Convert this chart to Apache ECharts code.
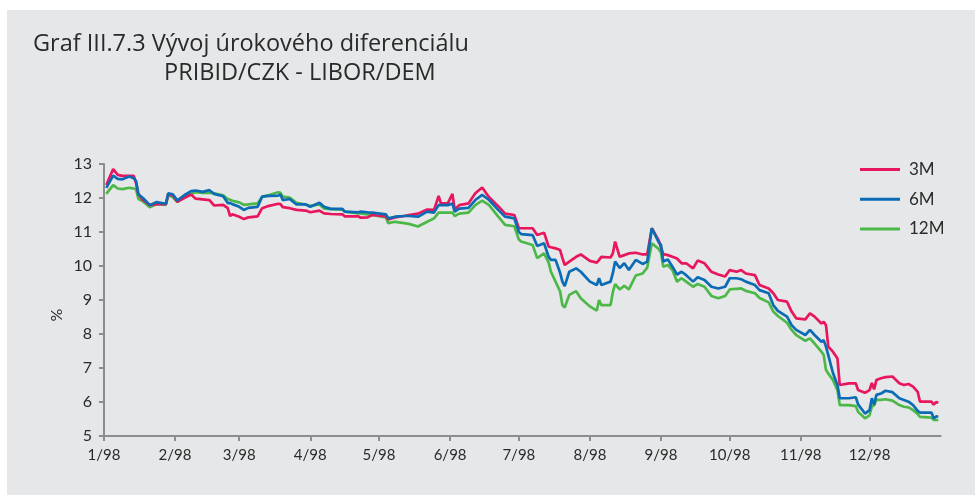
<!DOCTYPE html>
<html>
<head>
<meta charset="utf-8">
<script src="https://cdn.jsdelivr.net/npm/echarts@6/dist/echarts.min.js"></script>
<style>
html,body{margin:0;padding:0;background:#ffffff;}
#chart{width:975px;height:495px;}
</style>
</head>
<body>
<div id="chart"></div>
<script>
const titleLine1 = 'Graf III.7.3 Vývoj úrokového diferenciálu';
const titleLine2 = 'PRIBID/CZK - LIBOR/DEM';
const seriesNames = ['3M', '6M', '12M'];
const yTicks = [5, 6, 7, 8, 9, 10, 11, 12, 13];

const dates = [
'1998-01-02','1998-01-05','1998-01-07','1998-01-09','1998-01-12','1998-01-14','1998-01-15','1998-01-16','1998-01-18','1998-01-21',
'1998-01-24','1998-01-28','1998-01-29','1998-01-31','1998-02-02','1998-02-05','1998-02-08','1998-02-10','1998-02-13','1998-02-16',
'1998-02-18','1998-02-22','1998-02-24','1998-02-25','1998-02-26','1998-03-01','1998-03-03','1998-03-05','1998-03-09','1998-03-11',
'1998-03-14','1998-03-18','1998-03-19','1998-03-20','1998-03-23','1998-03-26','1998-03-30','1998-04-01','1998-04-05','1998-04-07',
'1998-04-10','1998-04-15','1998-04-16','1998-04-22','1998-04-23','1998-04-26','1998-04-28','1998-05-04','1998-05-05','1998-05-08',
'1998-05-12','1998-05-14','1998-05-18','1998-05-22','1998-05-25','1998-05-27','1998-05-28','1998-05-31','1998-06-02','1998-06-03',
'1998-06-05','1998-06-09','1998-06-12','1998-06-15','1998-06-18','1998-06-22','1998-06-25','1998-06-29','1998-07-01','1998-07-02',
'1998-07-07','1998-07-09','1998-07-12','1998-07-14','1998-07-15','1998-07-17','1998-07-19','1998-07-20','1998-07-21','1998-07-23',
'1998-07-26','1998-07-28','1998-08-01','1998-08-04','1998-08-05','1998-08-06','1998-08-10','1998-08-11','1998-08-12','1998-08-14',
'1998-08-16','1998-08-18','1998-08-21','1998-08-24','1998-08-26','1998-08-28','1998-08-31','1998-09-01','1998-09-02','1998-09-04',
'1998-09-06','1998-09-08','1998-09-10','1998-09-12','1998-09-15','1998-09-17','1998-09-20','1998-09-23','1998-09-26','1998-09-29',
'1998-10-01','1998-10-04','1998-10-06','1998-10-08','1998-10-12','1998-10-14','1998-10-18','1998-10-20','1998-10-22','1998-10-26',
'1998-10-28','1998-10-30','1998-11-03','1998-11-05','1998-11-07','1998-11-10','1998-11-11','1998-11-12','1998-11-13','1998-11-15',
'1998-11-17','1998-11-18','1998-11-22','1998-11-25','1998-11-26','1998-11-29','1998-12-01','1998-12-02','1998-12-03','1998-12-04',
'1998-12-06','1998-12-08','1998-12-11','1998-12-14','1998-12-16','1998-12-18','1998-12-20','1998-12-22','1998-12-23','1998-12-28',
'1998-12-29','1998-12-30','1998-12-31'
];

const v3M = [
12.38,12.85,12.68,12.65,12.65,12.65,12.43,12.11,11.94,11.79,
11.82,11.82,12.10,12.08,11.89,12.00,12.10,11.98,11.96,11.94,
11.78,11.80,11.70,11.47,11.52,11.45,11.38,11.43,11.46,11.70,
11.77,11.83,11.82,11.73,11.70,11.65,11.63,11.58,11.63,11.55,
11.53,11.52,11.46,11.46,11.42,11.43,11.50,11.46,11.37,11.43,
11.47,11.50,11.54,11.66,11.65,12.06,11.84,11.84,12.12,11.66,
11.79,11.84,12.14,12.31,12.02,11.76,11.54,11.50,11.11,11.11,
11.11,10.91,10.98,10.57,10.55,10.52,10.47,10.24,10.03,10.13,
10.27,10.34,10.15,10.10,10.18,10.27,10.25,10.37,10.72,10.27,
10.32,10.37,10.39,10.34,10.34,11.11,10.75,10.55,10.35,10.32,
10.27,10.22,10.08,10.08,9.93,10.16,10.08,9.83,9.75,9.69,
9.88,9.83,9.88,9.78,9.73,9.44,9.34,9.20,9.00,8.95,
8.66,8.46,8.43,8.61,8.51,8.31,8.36,8.26,7.63,7.48,
7.28,6.50,6.55,6.55,6.35,6.27,6.35,6.56,6.37,6.65,
6.70,6.73,6.75,6.55,6.50,6.53,6.45,6.30,6.01,6.01,
5.92,6.00,5.98
];

const v6M = [
12.30,12.66,12.56,12.55,12.63,12.58,12.50,12.11,12.00,11.79,
11.88,11.83,12.14,12.11,11.93,12.08,12.20,12.22,12.18,12.23,
12.12,12.05,11.85,11.85,11.82,11.74,11.65,11.71,11.74,12.04,
12.06,12.07,12.10,11.94,11.97,11.81,11.81,11.74,11.86,11.74,
11.68,11.68,11.60,11.58,11.60,11.58,11.57,11.52,11.40,11.45,
11.47,11.47,11.45,11.60,11.57,11.79,11.79,11.79,11.84,11.60,
11.69,11.71,11.94,12.09,11.94,11.65,11.45,11.40,11.00,10.94,
10.91,10.59,10.67,10.27,10.18,10.18,9.80,9.54,9.41,9.83,
9.93,9.83,9.54,9.44,9.64,9.44,9.54,9.79,10.13,9.94,
10.08,9.88,10.18,10.06,10.13,11.11,10.70,10.62,10.13,10.19,
9.98,9.75,9.83,9.73,9.54,9.67,9.59,9.39,9.34,9.39,
9.64,9.64,9.61,9.54,9.44,9.29,9.20,8.85,8.68,8.51,
8.26,8.12,7.97,8.12,7.97,7.77,7.82,7.63,7.38,6.86,
6.50,6.11,6.11,6.14,5.93,5.66,5.76,6.11,5.92,6.21,
6.25,6.33,6.29,6.11,6.06,6.01,5.91,5.74,5.69,5.69,
5.52,5.57,5.58
];

const v12M = [
12.12,12.38,12.28,12.26,12.30,12.28,12.25,11.97,11.90,11.73,
11.82,11.80,12.08,12.03,11.88,12.05,12.12,12.17,12.15,12.15,
12.14,12.08,11.97,11.95,11.92,11.87,11.80,11.81,11.84,12.04,
12.09,12.17,12.15,12.04,12.01,11.86,11.81,11.77,11.81,11.69,
11.67,11.66,11.60,11.55,11.55,11.52,11.50,11.43,11.26,11.30,
11.26,11.24,11.16,11.30,11.40,11.57,11.57,11.57,11.57,11.47,
11.54,11.57,11.79,11.92,11.79,11.45,11.21,11.17,10.78,10.72,
10.62,10.23,10.37,10.10,9.83,9.54,9.25,8.85,8.78,9.15,
9.26,9.05,8.81,8.69,9.00,8.85,8.85,9.23,9.47,9.31,
9.42,9.31,9.72,9.78,9.95,10.67,10.50,10.40,9.98,10.03,
9.88,9.54,9.64,9.54,9.39,9.47,9.39,9.12,9.05,9.12,
9.31,9.33,9.34,9.27,9.20,9.06,8.93,8.66,8.53,8.33,
8.12,7.97,7.80,7.87,7.72,7.48,7.38,6.94,6.84,6.65,
6.35,5.91,5.91,5.88,5.71,5.52,5.61,5.86,5.91,6.06,
6.06,6.08,6.04,5.91,5.86,5.84,5.76,5.65,5.56,5.54,
5.47,5.47,5.47
];

const colors = {'3M': '#e8175d', '6M': '#0b6cb5', '12M': '#4cb848'};
const valuesByName = {'3M': v3M, '6M': v6M, '12M': v12M};
const drawOrder = ['12M', '3M', '6M'];
const FONT = 'Lato, "Open Sans", sans-serif';
const TITLE_FONT = '"Open Sans", Lato, sans-serif';
const TEXT = '#2a2a2a';
const AXIS = '#8d8d8d';

const chart = echarts.init(document.getElementById('chart'), null, {renderer: 'canvas'});
chart.setOption({
  backgroundColor: '#ffffff',
  animation: false,
  textStyle: {fontFamily: FONT},
  graphic: [{
    type: 'rect', z: -10, silent: true,
    shape: {x: 7, y: 10, width: 968, height: 485},
    style: {fill: '#e6e7e8'}
  }, {
    type: 'text', z: 10,
    x: 57, y: 315, rotation: Math.PI / 2,
    style: {text: '%', font: '16px ' + FONT, fill: TEXT, textAlign: 'center', textVerticalAlign: 'middle'}
  }],
  title: [
    {text: titleLine1, left: 33, top: 32, padding: 0, textStyle: {fontFamily: TITLE_FONT, fontSize: 23.5, fontWeight: 'normal', color: TEXT}},
    {text: titleLine2, left: 164, top: 61, padding: 0, textStyle: {fontFamily: TITLE_FONT, fontSize: 23.5, fontWeight: 'normal', color: TEXT}}
  ],
  legend: {
    orient: 'vertical', left: 860, top: 161, padding: 0,
    data: seriesNames,
    icon: 'rect', itemWidth: 40, itemHeight: 3, itemGap: 12.7,
    textStyle: {fontFamily: FONT, fontSize: 17, color: TEXT, lineHeight: 16, padding: [0, 0, 0, 4]}
  },
  grid: {left: 104, right: 34.4, top: 164, bottom: 59, containLabel: false},
  xAxis: {
    type: 'time',
    min: '1998-01-01', max: '1999-01-01',
    splitNumber: 12,
    axisLine: {lineStyle: {color: AXIS, width: 2}},
    axisTick: {length: 5, lineStyle: {color: AXIS, width: 2}},
    splitLine: {show: false},
    axisLabel: {
      fontFamily: FONT, fontSize: 15, color: TEXT, margin: 12,
      formatter: function (v) {
        const d = new Date(v);
        if (d.getFullYear() !== 1998) return '';
        return (d.getMonth() + 1) + '/98';
      }
    }
  },
  yAxis: {
    type: 'value', min: yTicks[0], max: yTicks[yTicks.length - 1], interval: 1,
    axisLine: {show: true, lineStyle: {color: AXIS, width: 2}},
    axisTick: {show: true, length: 5, lineStyle: {color: AXIS, width: 2}},
    splitLine: {show: false},
    axisLabel: {fontFamily: FONT, fontSize: 16, color: TEXT, margin: 12}
  },
  series: drawOrder.map(function (name) {
    return {
      name: name, type: 'line', showSymbol: false, symbol: 'none',
      lineStyle: {color: colors[name], width: 2.7},
      itemStyle: {color: colors[name]},
      data: dates.map(function (d, i) { return [d, valuesByName[name][i]]; })
    };
  })
});
</script>
</body>
</html>
